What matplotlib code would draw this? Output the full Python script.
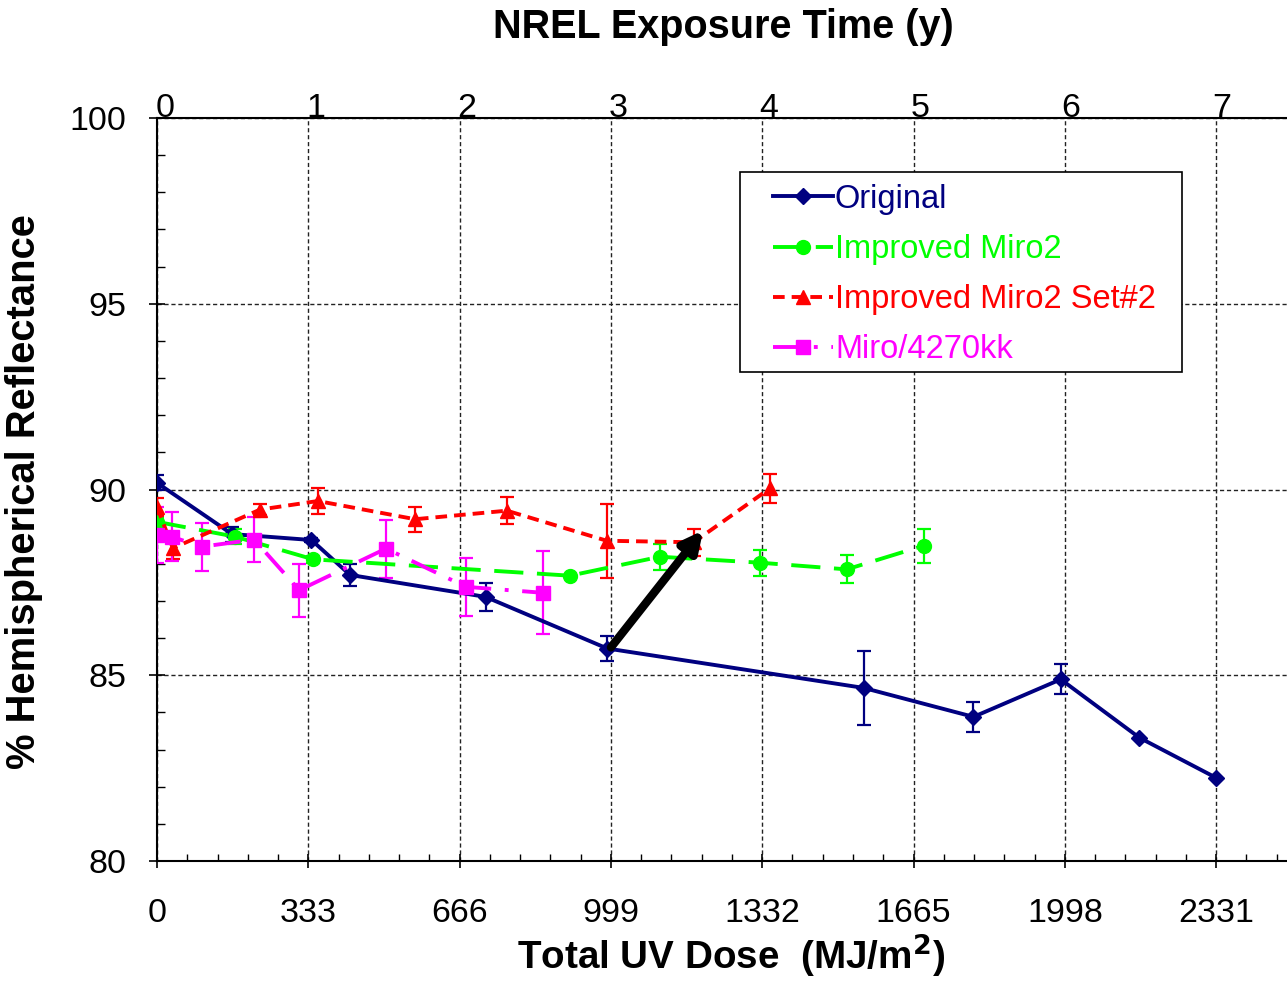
import matplotlib
matplotlib.use("Agg")
import matplotlib.pyplot as plt
import numpy as np
from matplotlib.patches import Rectangle
from matplotlib.ticker import MultipleLocator, FixedLocator

# data (x = total UV dose in MJ/m2, y = % reflectance)
orig_x = [0, 165, 340, 425, 723, 991, 1555, 1797, 1989, 2162, 2331]
orig_y = [90.18, 88.8, 88.64, 87.7, 87.11, 85.72, 84.66, 83.88, 84.89, 83.32, 82.24]
orig_err = [0.2, 0.2, 0.06, 0.3, 0.37, 0.33, 1.0, 0.4, 0.4, 0, 0]

miro2_x = [0, 172, 344, 909, 1107, 1327, 1518, 1688]
miro2_y = [89.13, 88.73, 88.12, 87.68, 88.19, 88.03, 87.85, 88.49]
miro2_err = [0.1, 0.2, 0.1, 0, 0.35, 0.35, 0.38, 0.46]

set2_x = [0, 35, 227, 354, 568, 770, 990, 1181, 1349]
set2_y = [89.53, 88.42, 89.46, 89.69, 89.2, 89.43, 88.62, 88.58, 90.03]
set2_err = [0.25, 0.3, 0.15, 0.34, 0.34, 0.36, 1.0, 0.36, 0.4]

kk_x = [0, 32, 98, 214, 313, 504, 680, 849]
kk_y = [88.77, 88.73, 88.46, 88.65, 87.29, 88.41, 87.38, 87.22]
kk_err = [0.75, 0.66, 0.65, 0.6, 0.71, 0.78, 0.78, 1.12]

dose_ticks = [0, 333, 666, 999, 1332, 1665, 1998, 2331]
year_ticks = [0, 1, 2, 3, 4, 5, 6, 7]
arrow_start = (999, 85.75)
arrow_end = (1202, 88.9)

tick_font = ["Liberation Sans", "DejaVu Sans"]
label_font = ["Liberation Sans", "DejaVu Sans"]

fig = plt.figure(figsize=(12.87, 9.81), dpi=100)
ax = fig.add_axes([157 / 1287, 1 - 861 / 981, 1130 / 1287, 743 / 981])

series = [
    ("Original", orig_x, orig_y, orig_err, "#000080", "D", 8, "-"),
    ("Improved Miro2", miro2_x, miro2_y, miro2_err, "#00FF00", "o", 10, (0, (7.5, 3.5))),
    ("Improved Miro2 Set#2", set2_x, set2_y, set2_err, "#FF0000", "^", 10, (0, (3, 1.8))),
    ("Miro/4270kk", kk_x, kk_y, kk_err, "#FF00FF", "s", 10, (0, (7, 3.5, 1, 3.5))),
]

for name, xs, ys, errs, col, mk, ms, ls in series:
    xs = np.array(xs, dtype=float)
    ys = np.array(ys, dtype=float)
    errs = np.array(errs, dtype=float)
    m = errs > 0
    ax.errorbar(xs[m], ys[m], yerr=errs[m], fmt="none", ecolor=col,
                elinewidth=1.6, capsize=5, capthick=1.6, zorder=3)
    ax.plot(xs, ys, color=col, marker=mk, markersize=ms, linewidth=2.8,
            linestyle=ls, label=name, zorder=4)

ax.annotate("", xy=arrow_end, xytext=arrow_start,
            arrowprops=dict(arrowstyle="-|>,head_length=1.2,head_width=0.6",
                            color="black", lw=6, shrinkA=0, shrinkB=0),
            zorder=6)

ax.set_xlim(0, 2487)
ax.set_ylim(80, 100)
ax.xaxis.set_major_locator(FixedLocator(dose_ticks))
ax.xaxis.set_minor_locator(MultipleLocator(333 / 5))
ax.yaxis.set_major_locator(MultipleLocator(5))
ax.yaxis.set_minor_locator(MultipleLocator(1))

ax.grid(True, which="major", color="#222222", linestyle=(0, (3, 2)), linewidth=1.0)
ax.set_axisbelow(True)
ax.spines["right"].set_visible(False)
for s in ["left", "bottom", "top"]:
    ax.spines[s].set_linewidth(1.5)

ax.tick_params(axis="x", which="major", direction="inout", length=10, width=1.2, pad=22)
ax.tick_params(axis="x", which="minor", direction="in", length=5, width=1.0)
ax.tick_params(axis="y", which="major", direction="inout", length=12, width=1.2, pad=16)
ax.tick_params(axis="y", which="minor", direction="in", length=6, width=1.0)
ax.tick_params(top=False, right=False, which="both")
for lbl in ax.get_xticklabels() + ax.get_yticklabels():
    lbl.set_fontfamily(tick_font)
    lbl.set_fontsize(24.5)

ax2 = ax.secondary_xaxis("top", functions=(lambda x: (x - 17.6) / 332.4,
                                           lambda y: y * 332.4 + 17.6))
ax2.set_xticks(year_ticks)
ax2.tick_params(length=0, pad=-4)
ax2.spines["top"].set_visible(False)
for lbl in ax2.get_xticklabels():
    lbl.set_fontfamily(tick_font)
    lbl.set_fontsize(24.5)

# legend frame drawn as its own box, entries placed inside it
ax.add_patch(Rectangle((0.5159, 0.6581), 0.9071 - 0.5159, 0.9273 - 0.6581,
                       transform=ax.transAxes, facecolor="white", edgecolor="black",
                       linewidth=1.2, zorder=7))
leg = ax.legend(loc="upper left", bbox_to_anchor=(0.5451, 0.9116), borderaxespad=0,
                borderpad=0, prop={"family": label_font, "size": 23.5},
                labelcolor="linecolor", handlelength=1.84, handletextpad=0.06,
                labelspacing=0.59, frameon=False)
leg.set_zorder(8)

fig.text(723 / 1287, 1 - 27 / 981, "NREL Exposure Time (y)", ha="center", va="center",
         fontsize=28.5, fontweight="bold", family=label_font)
fig.text(731 / 1287, 1 - 955 / 981, "Total UV Dose  (MJ/m$^\\mathbf{2}$)", ha="center",
         va="center", fontsize=27.8, fontweight="bold", family=label_font)
fig.text(24 / 1287, 1 - 492 / 981, "% Hemispherical Reflectance", ha="center", va="center",
         rotation=90, fontsize=28.8, fontweight="bold", family=label_font)

fig.savefig("out.png", dpi=100)
